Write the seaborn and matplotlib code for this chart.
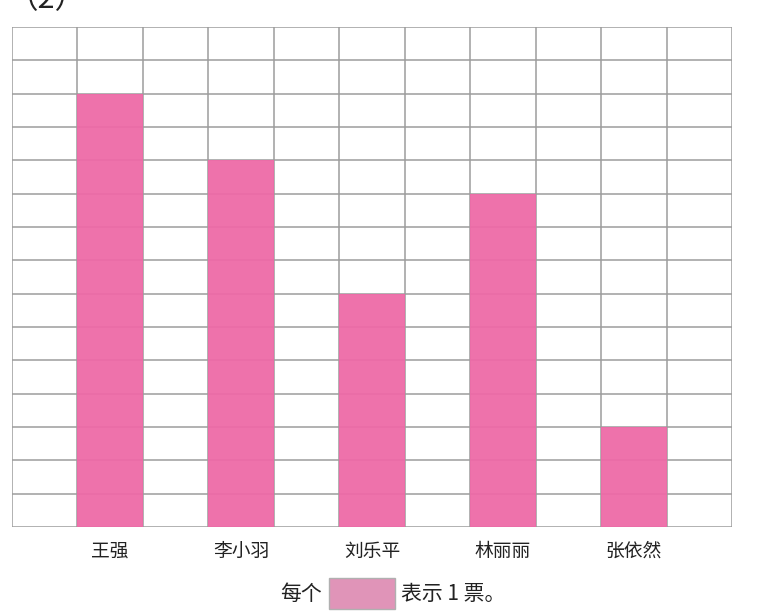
import numpy as np
import pandas as pd
import seaborn as sns
import matplotlib.pyplot as plt
from matplotlib.patches import Rectangle

# votes per person (each cell = 1 vote)
names = ["王强", "李小羽", "刘乐平", "林丽丽", "张依然"]
votes = [13, 11, 7, 10, 3]
# bars sit in every second grid column
positions = [1.5, 3.5, 5.5, 7.5, 9.5]

n_cols = 11
n_rows = 15

sns.set_theme(style="white")
plt.rcParams['font.family'] = ['Noto Sans CJK SC', 'DejaVu Sans']

df = pd.DataFrame({"pos": positions, "votes": votes, "name": names})

fig = plt.figure(figsize=(7.61, 6.14), dpi=100)
W, H = 761, 614
ax = fig.add_axes([12 / W, (H - 527) / H, (732 - 12) / W, (527 - 27) / H])

# grid
for i in range(n_cols + 1):
    ax.axvline(i, color="#9c9c9c", lw=1.1, zorder=1)
for j in range(n_rows + 1):
    ax.axhline(j, color="#9c9c9c", lw=1.1, zorder=1)

sns.barplot(data=df, x="pos", y="votes", native_scale=True, width=0.5,
            color="#ee6aa7", saturation=1, alpha=0.95, linewidth=0,
            ax=ax, zorder=2)

ax.set_xlim(0, n_cols)
ax.set_ylim(0, n_rows)
ax.set_xticks(positions)
ax.set_xticklabels(names, fontsize=13.5, color="#222222")
ax.tick_params(axis="x", length=0, pad=10)
ax.set_yticks([])
ax.set_xlabel("")
ax.set_ylabel("")
for s in ax.spines.values():
    s.set_visible(False)

# caption "(2)" cut off at the top
fig.text(8 / W, 1 - 0 / H, "（2）", fontsize=22,
         color="#222222", ha="left", va="center")

# legend line at bottom
fig.text(322 / W, 1 - 594 / H, "每个", fontsize=15, ha="right", va="center",
         color="#222222")
fig.patches.append(Rectangle((329 / W, 1 - 609 / H), 66 / W, 31 / H,
                             transform=fig.transFigure, facecolor="#e094b8",
                             edgecolor="#b0b0b0", lw=1))
fig.text(401 / W, 1 - 594 / H, "表示 1 票。", fontsize=15, ha="left",
         va="center", color="#222222")

fig.savefig("out.png", dpi=100)
